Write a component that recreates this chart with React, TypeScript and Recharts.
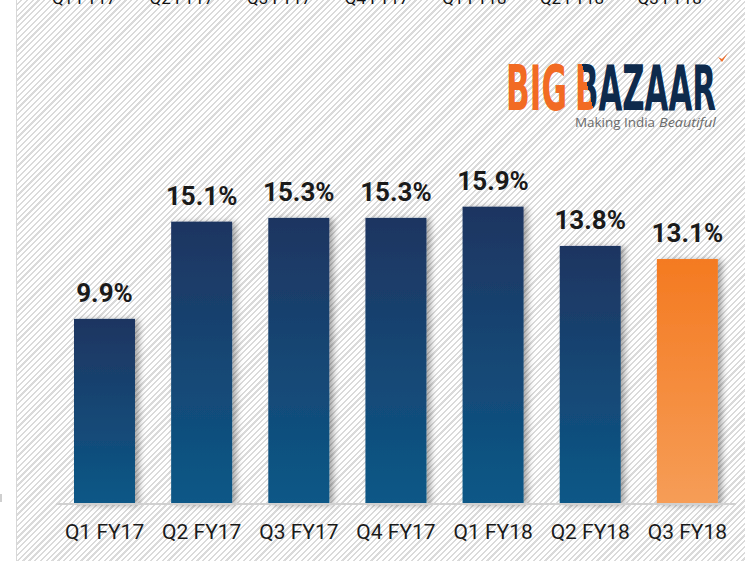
import React from 'react';
import { BarChart, Bar, XAxis, YAxis, LabelList } from 'recharts';

const quarters = ['Q1 FY17', 'Q2 FY17', 'Q3 FY17', 'Q4 FY17', 'Q1 FY18', 'Q2 FY18', 'Q3 FY18'];
const marginPct = [9.9, 15.1, 15.3, 15.3, 15.9, 13.8, 13.1];
const highlight = [false, false, false, false, false, false, true];
const yDomain = [0, 20];
const logoBig = 'BIG';
const logoBazaar = 'BAZAAR';
const taglinePlain = 'Making India';
const taglineItalic = 'Beautiful';

const data = quarters.map((q, i) => ({ q, v: marginPct[i], hl: highlight[i] }));

const FONT = 'Roboto, "Noto Sans", sans-serif';
const LOGO_FONT = '"Liberation Sans Narrow", "DejaVu Sans Condensed", sans-serif';

const BarShape = (p: any) => (
  <rect
    x={p.x}
    y={p.y}
    width={p.width}
    height={p.height}
    fill={p.payload && p.payload.hl ? 'url(#gOrange)' : 'url(#gNavy)'}
    filter="url(#barShadow)"
  />
);

export default function App() {
  return (
    <div style={{ position: 'absolute', left: 0, top: 0, width: 745, height: 561, background: '#fff', overflow: 'hidden' }}>
      <div
        style={{
          position: 'absolute',
          left: 17,
          top: 0,
          width: 728,
          height: 561,
          background: 'repeating-linear-gradient(135deg, #ffffff 0px, #ffffff 2.5px, #dadada 2.5px, #dadada 4.1px)',
        }}
      />
      <div style={{ position: 'absolute', left: 15.5, top: 0, width: 1.5, height: 561, background: '#d8d8d8' }} />
      <div style={{ position: 'absolute', left: 0, top: 494, width: 2, height: 8, background: '#cfcfcf' }} />
      <svg width={745} height={20} style={{ position: 'absolute', left: 0, top: 0 }}>
        {quarters.map((q, i) => (
          <text key={q} x={84 + i * 97.6} y={4} textAnchor="middle" fontSize={17} fontFamily={FONT} fill="#111">
            {q}
          </text>
        ))}
      </svg>
      <div style={{ position: 'absolute', left: 0, top: 0 }}>
        <BarChart
          width={745}
          height={561}
          data={data}
          margin={{ top: 130, right: 9, left: 56, bottom: 27 }}
          barSize={61}
        >
          <defs>
            <linearGradient id="gNavy" x1="0" y1="0" x2="0" y2="1">
              <stop offset="0%" stopColor="#1f3561" />
              <stop offset="100%" stopColor="#0b5887" />
            </linearGradient>
            <linearGradient id="gOrange" x1="0" y1="0" x2="0" y2="1">
              <stop offset="0%" stopColor="#f47a21" />
              <stop offset="100%" stopColor="#f69d57" />
            </linearGradient>
            <filter id="barShadow" x="-20%" y="-10%" width="160%" height="120%">
              <feDropShadow dx="4" dy="1" stdDeviation="3" floodColor="#000" floodOpacity="0.35" />
            </filter>
          </defs>
          <XAxis
            dataKey="q"
            interval={0}
            height={30}
            tickLine={false}
            tickMargin={14}
            axisLine={{ stroke: '#d0d0d0', strokeWidth: 2 }}
            tick={{ fontSize: 21, fill: '#1a1a1a', fontFamily: FONT }}
          />
          <YAxis hide domain={yDomain} />
          <Bar dataKey="v" isAnimationActive={false} shape={BarShape}>
            <LabelList
              dataKey="v"
              position="top"
              offset={17}
              formatter={(v: any) => `${Number(v).toFixed(1)}%`}
              style={{ fontSize: 26, fontWeight: 700, fill: '#1a1a1a', fontFamily: FONT }}
            />
          </Bar>
        </BarChart>
      </div>
      <svg width={745} height={561} style={{ position: 'absolute', left: 0, top: 0, pointerEvents: 'none' }}>
        <defs>
          <linearGradient id="bSplit" gradientUnits="userSpaceOnUse" x1={587.5} y1={86} x2={591.5} y2={85}>
            <stop offset="0" stopColor="#f26b23" />
            <stop offset="0" stopColor="#0e2a4c" />
          </linearGradient>
        </defs>
        <text x={506} y={110} fontSize={62} fontWeight={700} fontFamily={LOGO_FONT} fill="#f26b23" textLength={61} lengthAdjust="spacingAndGlyphs">
          {logoBig}
        </text>
        <text x={575} y={110} fontSize={62} fontWeight={700} fontFamily={LOGO_FONT} fill="url(#bSplit)" textLength={141} lengthAdjust="spacingAndGlyphs">
          {logoBazaar}
        </text>
        <path d="M718,57 L722,62 L728,53 L722,59 Z" fill="#f26b23" />
        <text x={575} y={127} fontSize={13.5} fontFamily='"Open Sans", "Noto Sans", sans-serif' fill="#6b6b6b" textLength={80} lengthAdjust="spacingAndGlyphs">
          {taglinePlain}
        </text>
        <text x={659} y={127} fontSize={13.5} fontStyle="italic" fontFamily='"Open Sans", "Noto Sans", sans-serif' fill="#6b6b6b" textLength={57} lengthAdjust="spacingAndGlyphs">
          {taglineItalic}
        </text>
      </svg>
    </div>
  );
}
